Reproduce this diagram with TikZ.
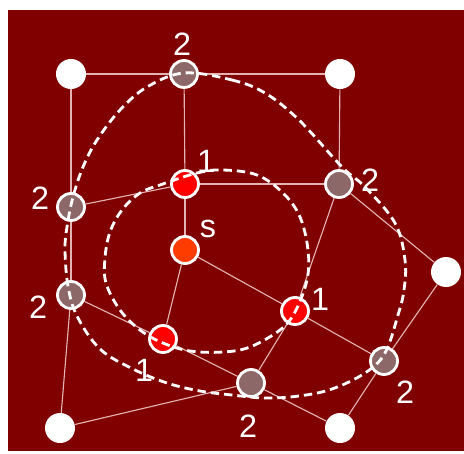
\documentclass[tikz,border=0pt]{standalone}
\usepackage{fontspec}
\setmainfont{Liberation Sans}
\definecolor{bgred}{RGB}{128,0,0}
\definecolor{nodegray}{RGB}{141,104,104}
\definecolor{nodered}{RGB}{255,0,0}
\definecolor{nodeorange}{RGB}{255,60,0}
\definecolor{edgepink}{RGB}{228,180,180}
\begin{document}
\begin{tikzpicture}[x=0.025cm, y=-0.025cm,
  farnode/.style={circle, fill=white, minimum size=0.75cm, inner sep=0pt},
  visited/.style={circle, draw=white, line width=2pt, fill=nodegray, minimum size=0.675cm, inner sep=0pt},
  frontier/.style={visited, fill=nodered},
  srcnode/.style={visited, fill=nodeorange},
  lbl/.style={text=white, font=\fontsize{23}{27}\selectfont, inner sep=0pt},
  link/.style={draw=edgepink, line width=0.8pt},
  ring/.style={draw=white, line width=2pt, dash pattern=on 6pt off 3.5pt}]

\useasboundingbox (0,0) rectangle (464,453);
\fill[bgred] (8,10) rectangle (464,451);

\node (nw) [farnode] at (71,74) {};
\node (n) [visited] at (184,74) {};
\node (ne) [farnode] at (340,74) {};
\node (c1) [frontier] at (185,184) {};
\node (e2) [visited] at (339,184) {};
\node (w2) [visited] at (71,207) {};
\node (src) [srcnode] at (185,250) {};
\node (far) [farnode] at (446,272) {};
\node (sw2) [visited] at (71,295) {};
\node (r1) [frontier] at (295,311) {};
\node (l1) [frontier] at (163,339) {};
\node (se2) [visited] at (384,361) {};
\node (b2) [visited] at (251,383) {};
\node (sw) [farnode] at (60,428) {};
\node (se) [farnode] at (340,428) {};

\node (n-lab) [lbl] at (182,44) {2};
\node (c1-lab) [lbl] at (206,161) {1};
\node (e2-lab) [lbl] at (370,180) {2};
\node (w2-lab) [lbl] at (40,198) {2};
\node (src-lab) [lbl] at (208,229) {s};
\node (sw2-lab) [lbl] at (38,307) {2};
\node (r1-lab) [lbl] at (320,299) {1};
\node (l1-lab) [lbl] at (144,370) {1};
\node (se2-lab) [lbl] at (405,392) {2};
\node (b2-lab) [lbl] at (248,426) {2};

\draw[link] (nw) -- (n);
\draw[link] (n) -- (ne);
\draw[link] (nw) -- (w2);
\draw[link] (n) -- (c1);
\draw[link] (ne) -- (e2);
\draw[link] (c1) -- (e2);
\draw[link] (w2) -- (c1);
\draw[link] (c1) -- (src);
\draw[link] (src) -- (l1);
\draw[link] (src) -- (r1);
\draw[link] (w2) -- (sw2);
\draw[link] (sw2) -- (l1);
\draw[link] (l1) -- (b2);
\draw[link] (b2) -- (se);
\draw[link] (sw2) -- (sw);
\draw[link] (sw) -- (b2);
\draw[link] (b2) -- (r1);
\draw[link] (r1) -- (e2);
\draw[link] (r1) -- (se2);
\draw[link] (se2) -- (far);
\draw[link] (se2) -- (se);
\draw[link] (e2) -- (far);

% distance rings
\draw[ring] plot[smooth cycle, tension=0.6] coordinates {(160,185) (197,173) (223,170) (257,175) (283,193) (300,217) (308,250) (307,280) (295,312) (280,330) (250,347) (223,352) (190,351) (163,343) (140,330) (120,310) (106,283) (105,258) (110,232) (122,210) (140,193)};
\draw[ring] plot[smooth cycle, tension=0.6] coordinates {(184,73) (232,80) (265,93) (299,120) (342,167) (365,187) (395,223) (405,260) (404,290) (398,315) (385,353) (365,373) (332,389) (299,396) (265,398) (232,395) (200,391) (167,383) (133,369) (100,349) (77,316) (68,286) (65,250) (67,227) (73,197) (83,167) (97,140) (120,110) (147,87)};

\end{tikzpicture}
\end{document}
